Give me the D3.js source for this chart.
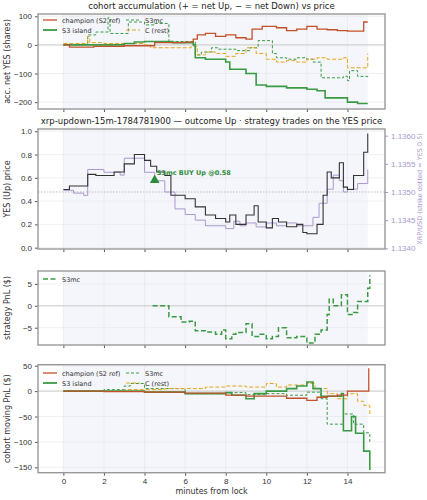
<!DOCTYPE html>
<html><head><meta charset="utf-8">
<script src="https://cdn.jsdelivr.net/npm/d3@7"></script>
<style>body{margin:0;background:#fff}svg{font-family:"DejaVu Sans",sans-serif}</style>
</head><body><svg id="c" width="427" height="500"></svg>
<script>
// ---- data: [minute, value] step series ----
const accChampion = [[0,0],[0.3,-8],[1.5,-5],[3,-3],[4.5,8],[6,10],[6.4,20],[6.6,35],[7,40],[7.5,30],[8,35],[8.5,25],[9,20],[9.3,55],[9.8,65],[10.5,60],[11,50],[11.5,55],[12,65],[12.5,55],[13,53],[13.5,50],[14,48],[14.8,80],[15,80]]
const accIsland = [[0,0],[2,0],[3,5],[3.5,10],[4,12],[5.2,12],[5.4,8],[6.4,0],[6.5,-45],[7,-50],[8,-60],[8.2,-85],[9,-100],[9.5,-140],[10,-145],[11,-150],[12,-155],[12.5,-160],[12.9,-185],[13.5,-185],[14,-200],[14.5,-205],[15,-205]]
const accS3mc = [[0,0],[1,5],[1.2,35],[1.6,45],[2,45],[2.2,95],[2.3,40],[3.2,80],[3.8,80],[4,70],[4.5,75],[5.2,10],[5.5,12],[6.5,-35],[6.8,-25],[7.3,-10],[7.6,-15],[8.5,-20],[9.2,-10],[9.6,15],[10.3,-30],[10.5,-45],[11,-50],[11.5,-45],[12,-50],[12.3,-60],[12.7,-115],[13.8,-110],[14,-125],[14.1,-90],[14.5,-110],[15,-115]]
const accRest = [[0,5],[1.1,5],[1.2,30],[1.3,8],[2,5],[4,0],[4.3,-10],[5,-10],[6.3,-5],[6.6,-35],[7,-25],[7.5,-30],[8,-40],[8.5,-30],[9,-10],[9.5,-30],[10,-50],[10.5,-60],[11,-55],[11.5,-60],[12,-50],[12.5,-45],[13,-50],[13.8,-45],[14,-80],[14.8,-80],[15,-30]]

const yesPrice = [[0,0.5],[0.3,0.53],[1,0.53],[1.2,0.63],[1.6,0.62],[2,0.62],[2.5,0.65],[3,0.72],[3.5,0.8],[4,0.75],[4.3,0.70],[4.6,0.65],[5,0.62],[5.3,0.45],[6,0.42],[6.5,0.35],[7,0.28],[7.5,0.25],[8,0.22],[8.2,0.28],[8.5,0.20],[9,0.28],[9.4,0.36],[9.6,0.22],[10,0.17],[10.3,0.25],[10.6,0.22],[11,0.18],[11.5,0.20],[11.8,0.13],[12,0.12],[12.5,0.20],[12.8,0.45],[13,0.65],[13.2,0.60],[13.6,0.73],[13.8,0.52],[14,0.5],[14.3,0.62],[14.8,0.82],[15,0.98]]
const xrpUsd = [[0,1.13503],[0.5,1.13498],[1,1.13494],[1.2,1.1354],[2,1.13535],[2.8,1.1353],[3,1.1356],[3.7,1.1356],[4,1.13535],[4.5,1.1352],[5,1.135],[5.5,1.1347],[6,1.1346],[6.5,1.1345],[7,1.1344],[7.5,1.1344],[8,1.13435],[8.4,1.13448],[8.7,1.1344],[9,1.13445],[9.5,1.13438],[10,1.13445],[10.5,1.1344],[11,1.13445],[11.5,1.1344],[12,1.1344],[12.3,1.13455],[12.6,1.1348],[13,1.13505],[13.3,1.1353],[13.6,1.1352],[13.8,1.135],[14,1.13505],[14.5,1.13515],[15,1.1354]]
const trade = {t: 4.5, price: 0.58, label: 'S3mc BUY Up @0.58'}

const stratPnl = [[4.4,0],[5.2,-2.5],[5.8,-3.7],[6.2,-3.5],[6.5,-5.7],[7,-6],[7.5,-6.5],[7.8,-5.5],[8,-7.5],[8.3,-6.5],[8.5,-6.1],[9,-4.1],[9.3,-7],[9.7,-6.5],[10,-7.5],[10.3,-7],[10.6,-5],[11,-7.3],[11.5,-7],[12,-8.5],[12.4,-6.5],[12.7,-5.5],[13,-2],[13.1,1.5],[13.3,0],[13.7,2.5],[14,-2],[14.3,-1.5],[14.5,1],[15,4],[15.1,7]]

const pnlChampion = [[0,0],[2,-1],[4,-2],[6,-4],[8,-8],[9,-10],[10,-10],[11,-14],[12,-18],[12.5,-12],[13,-10],[13.5,-8],[14,0],[15,0],[15.05,45]]
const pnlIsland = [[0,0],[4,-2],[6,-5],[8,-3],[8.3,-8],[9,-15],[9.4,-5],[10,0],[11,5],[11.5,10],[12,18],[12.3,5],[12.7,-10],[13.7,-5],[13.8,-78],[14.2,-50],[14.4,-83],[14.8,-118],[15.1,-155]]
const pnlS3mc = [[0,0],[2,3],[3,10],[3.3,15],[4,5],[6,-5],[8,-3],[9,-7],[10,-5],[11,-8],[12,-2],[12.7,-15],[13,-65],[13.8,-45],[14.3,-65],[14.8,-82],[15.1,-100]]
const pnlRest = [[0,0],[3,3],[5,5],[7,8],[8,10],[9,8],[10,15],[10.5,8],[11,12],[12,15],[12.4,5],[13,-5],[13.5,-15],[14,-5],[14.5,-20],[14.8,-28],[15.1,-45]]

const xTicks = [0,2,4,6,8,10,12,14]

// ---- drawing ----
const svg = d3.select('#c')
const L = 38, R = 385
const x = d3.scaleLinear().domain([-1.25, 15.85]).range([L, R])
const C = {champ:'#c4502b', island:'#3a9a44', s3mc:'#3a9a44', rest:'#e8a41c', purple:'#a898cf'}
const line = (y) => d3.line().x(d => x(d[0])).y(d => y(d[1])).curve(d3.curveStepAfter)
const intFmt = d => String(d).replace('-', '\u2212')

function panel(top, bottom, ydom, yticks, ylabel, title, showX, fmt) {
  const y = d3.scaleLinear().domain(ydom).range([bottom, top])
  const g = svg.append('g')
  g.append('rect').attr('x', x(0)).attr('y', top).attr('width', x(15) - x(0)).attr('height', bottom - top).attr('fill', '#f4f6fb')
  xTicks.forEach(t => g.append('line').attr('x1', x(t)).attr('x2', x(t)).attr('y1', top).attr('y2', bottom).attr('stroke', '#e6e6e6').attr('stroke-width', 0.6))
  yticks.forEach(t => g.append('line').attr('x1', L).attr('x2', R).attr('y1', y(t)).attr('y2', y(t)).attr('stroke', '#e6e6e6').attr('stroke-width', 0.6))
  const ax = g.append('g').attr('transform', `translate(${L},0)`).call(d3.axisLeft(y).tickValues(yticks).tickSize(3).tickFormat(fmt || intFmt))
  const bx = g.append('g').attr('transform', `translate(0,${bottom})`).call(d3.axisBottom(x).tickValues(xTicks).tickSize(3).tickFormat(showX ? d => d : ''))
  ;[ax, bx].forEach(a => { a.select('.domain').remove(); a.selectAll('text').attr('font-size', 8).attr('fill', '#333'); a.selectAll('line').attr('stroke', '#555') })
  g.append('text').attr('transform', `translate(10,${(top + bottom) / 2}) rotate(-90)`).attr('text-anchor', 'middle').attr('font-size', 8).attr('fill', '#333').text(ylabel)
  if (title) g.append('text').attr('x', (L + R) / 2).attr('y', top - 5).attr('text-anchor', 'middle').attr('font-size', 8.5).attr('fill', '#222').text(title)
  return {g, y, top, bottom}
}
function frame(p) {
  p.g.append('rect').attr('x', L).attr('y', p.top).attr('width', R - L).attr('height', p.bottom - p.top).attr('fill', 'none').attr('stroke', '#999').attr('stroke-width', 1.4)
}
function draw(p, data, color, w, dash) {
  p.g.append('path').datum(data).attr('d', line(p.y)).attr('fill', 'none').attr('stroke', color).attr('stroke-width', w).attr('stroke-dasharray', dash || null)
}
function zero(p) { p.g.append('line').attr('x1', L).attr('x2', R).attr('y1', p.y(0)).attr('y2', p.y(0)).attr('stroke', '#ccc').attr('stroke-width', 1) }
function legend(p, items, x0, y0) {
  items.forEach((it, i) => {
    const lx = x0 + (i % 2) * 83, ly = y0 + Math.floor(i / 2) * 10
    p.g.append('line').attr('x1', lx).attr('x2', lx + 14).attr('y1', ly).attr('y2', ly).attr('stroke', it.c).attr('stroke-width', it.w).attr('stroke-dasharray', it.d || null)
    p.g.append('text').attr('x', lx + 19).attr('y', ly + 2.5).attr('font-size', 6.5).attr('fill', '#333').text(it.n)
  })
}
const cohortLegend = [
  {n:'champion (S2 ref)', c:C.champ, w:1.3},
  {n:'S3mc', c:C.s3mc, w:1, d:'3,2'},
  {n:'S3 island', c:C.island, w:1.8},
  {n:'C (rest)', c:C.rest, w:1, d:'4,2'}]

// panel 1
const p1 = panel(14, 109, [-224, 108], [-200,-100,0,100], 'acc. net YES (shares)', 'cohort accumulation (+ = net Up, \u2212 = net Down) vs price', false)
zero(p1)
draw(p1, accS3mc, C.s3mc, 1, '3,2'); draw(p1, accRest, C.rest, 1, '4,2')
draw(p1, accIsland, C.island, 1.6); draw(p1, accChampion, C.champ, 1.3)
legend(p1, cohortLegend, 43, 20)
frame(p1)

// panel 2
const p2 = panel(129, 249, [-0.0115, 1.0195], [0,0.2,0.4,0.6,0.8,1.0], 'YES (Up) price', 'xrp-updown-15m-1784781900 \u2014 outcome Up \u00b7 strategy trades on the YES price', false, d3.format('.1f'))
const yr = d3.scaleLinear().domain([1.134, 1.136]).range([248.3, 135.7])
p2.g.append('line').attr('x1', L).attr('x2', R).attr('y1', yr(1.135)).attr('y2', yr(1.135)).attr('stroke', '#bbb').attr('stroke-dasharray', '1.5,1.5')
p2.g.append('path').datum(xrpUsd).attr('d', line(yr)).attr('fill', 'none').attr('stroke', C.purple).attr('stroke-width', 1)
draw(p2, yesPrice, '#333', 1.1)
p2.g.append('path').attr('d', d3.symbol(d3.symbolTriangle, 40)()).attr('transform', `translate(${x(trade.t)},${p2.y(trade.price)})`).attr('fill', '#2e8b3a')
p2.g.append('text').attr('x', x(trade.t) + 2).attr('y', p2.y(trade.price) - 5).attr('font-size', 6.5).attr('font-weight', 'bold').attr('fill', '#2e8b3a').text(trade.label)
const ra = p2.g.append('g').attr('transform', `translate(${R},0)`).call(d3.axisRight(yr).tickValues([1.134,1.1345,1.135,1.1355,1.136]).tickSize(3).tickFormat(d3.format('.4f')))
ra.select('.domain').remove(); ra.selectAll('text').attr('font-size', 8).attr('fill', C.purple); ra.selectAll('line').attr('stroke', C.purple)
p2.g.append('text').attr('transform', `translate(422,189) rotate(-90)`).attr('text-anchor', 'middle').attr('font-size', 6.5).attr('fill', C.purple).text('XRP/USD (strike dotted = YES 0.5)')
frame(p2)

// panel 3
const p3 = panel(271, 345, [-8.95, 7.95], [-5,0,5], 'strategy PnL ($)', null, false)
zero(p3)
draw(p3, stratPnl, C.s3mc, 1.5, '5,2.5')
legend(p3, [{n:'S3mc', c:C.s3mc, w:1.5, d:'5,2.5'}], 43, 279)
frame(p3)

// panel 4
const p4 = panel(364.7, 472.7, [-160.5, 52], [-150,-100,-50,0,50], 'cohort moving PnL ($)', null, true)
zero(p4)
draw(p4, pnlS3mc, C.s3mc, 1, '3,2'); draw(p4, pnlRest, C.rest, 1, '4,2')
draw(p4, pnlIsland, C.island, 1.6); draw(p4, pnlChampion, C.champ, 1.3)
legend(p4, cohortLegend, 43, 373)
frame(p4)
svg.append('text').attr('x', (L + R) / 2).attr('y', 494).attr('text-anchor', 'middle').attr('font-size', 8).attr('fill', '#333').text('minutes from lock')
</script></body></html>
